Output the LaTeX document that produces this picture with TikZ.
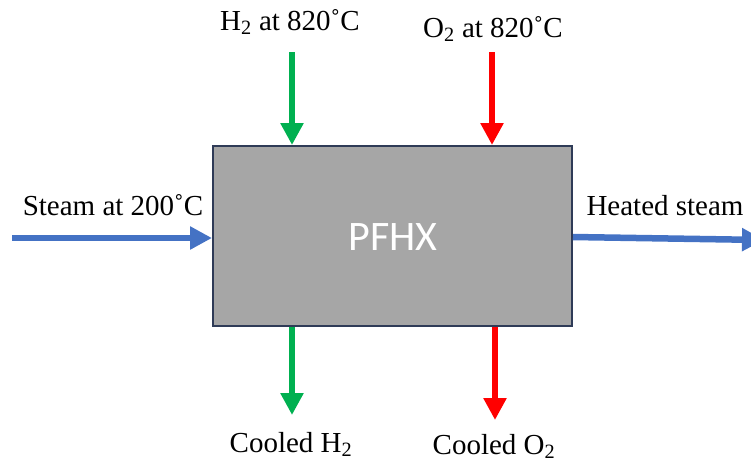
\documentclass[tikz,border=0pt]{standalone}
\usepackage{fontspec}
\setmainfont{Liberation Serif}
\newfontfamily\boxfont{Carlito}
\usetikzlibrary{arrows.meta,positioning}
\definecolor{hcol}{HTML}{00B050}
\definecolor{ocol}{HTML}{FF0000}
\definecolor{scol}{HTML}{4472C4}
\definecolor{boxcol}{HTML}{A6A6A6}
\definecolor{edgecol}{HTML}{2F3B57}
\tikzset{
  flow/.style={line width=6.5pt,-{Triangle[length=22pt,width=22pt]}},
  lbl/.style={anchor=base,inner sep=0pt,font=\fontsize{29}{33}\selectfont}
}
\begin{document}
\begin{tikzpicture}[x=1pt,y=-1pt]
  \useasboundingbox (0,0) rectangle (751,464);
  % heat exchanger block
  \node[draw=edgecol,line width=2pt,fill=boxcol,minimum width=359pt,minimum height=180pt,
        inner sep=0pt] (pfhx) at (392.5,236) {};
  \node[anchor=base,text=white,inner sep=0pt,font=\boxfont\fontsize{42}{46}\selectfont]
    (pfhxlbl) at (393,250) {PFHX};
  % free ends of the streams
  \coordinate (hin)  at (292,52);
  \coordinate (oin)  at (492,52);
  \coordinate (hout) at (292,415);
  \coordinate (oout) at (495,420);
  \coordinate (sin)  at (12,238);
  \coordinate (sout) at (764,240);
  % streams
  \draw[flow,hcol] (hin) -- (hin |- pfhx.north);
  \draw[flow,ocol] (oin) -- (oin |- pfhx.north);
  \draw[flow,hcol] (hout |- pfhx.south) -- (hout);
  \draw[flow,ocol] (oout |- pfhx.south) -- (oout);
  \draw[flow,scol] (sin) -- (sin -| pfhx.west);
  \draw[flow,scol] (pfhx.east |- 0,237) -- (sout);
  % labels
  \node[lbl] (hinlbl)  at (290,30)  {H\textsubscript{2} at 820˚C};
  \node[lbl] (oinlbl)  at (493,37)  {O\textsubscript{2} at 820˚C};
  \node[lbl] (sinlbl)  at (113,215) {Steam at 200˚C};
  \node[lbl] (soutlbl) at (665,215) {Heated steam};
  \node[lbl] (houtlbl) at (291,452) {Cooled H\textsubscript{2}};
  \node[lbl] (ooutlbl) at (494,454) {Cooled O\textsubscript{2}};
\end{tikzpicture}
\end{document}
